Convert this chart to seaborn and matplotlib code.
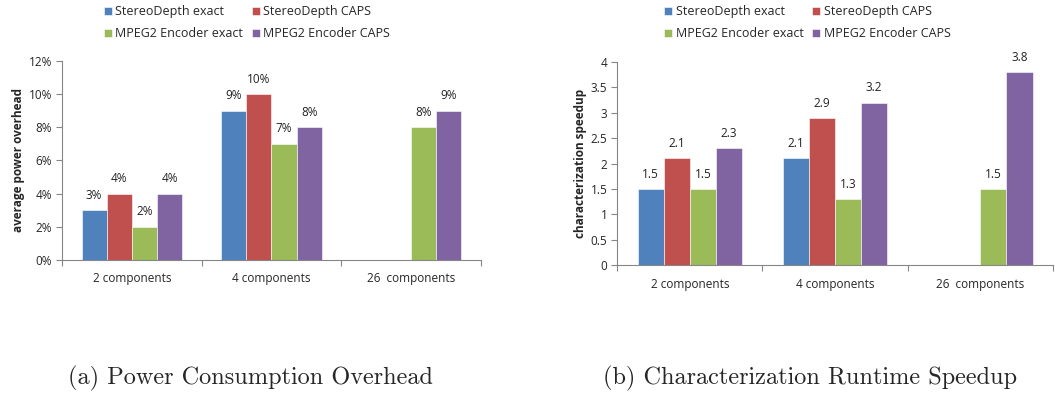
import numpy as np
import pandas as pd
import matplotlib
matplotlib.use("Agg")
import matplotlib.pyplot as plt
from matplotlib.ticker import FixedLocator, PercentFormatter
import seaborn as sns

# ---- data ----
categories = ["2 components", "4 components", "26  components"]
series = ["StereoDepth exact", "StereoDepth CAPS", "MPEG2 Encoder exact", "MPEG2 Encoder CAPS"]
power_overhead = {
    "StereoDepth exact":   [3, 9, np.nan],
    "StereoDepth CAPS":    [4, 10, np.nan],
    "MPEG2 Encoder exact": [2, 7, 8],
    "MPEG2 Encoder CAPS":  [4, 8, 9],
}
speedup = {
    "StereoDepth exact":   [1.5, 2.1, np.nan],
    "StereoDepth CAPS":    [2.1, 2.9, np.nan],
    "MPEG2 Encoder exact": [1.5, 1.3, 1.5],
    "MPEG2 Encoder CAPS":  [2.3, 3.2, 3.8],
}
power_ticks = [0, 2, 4, 6, 8, 10, 12]
speed_ticks = [0, 0.5, 1, 1.5, 2, 2.5, 3, 3.5, 4]
palette = ["#4F81BD", "#C0504D", "#9BBB59", "#8064A2"]


def long_form(values):
    rows = []
    for s in series:
        for c, v in zip(categories, values[s]):
            rows.append({"category": c, "series": s, "value": v})
    return pd.DataFrame(rows)


sns.set_theme(style="white")
plt.rcParams["font.family"] = ["Open Sans", "DejaVu Sans"]

fig = plt.figure(figsize=(10.55, 3.95), dpi=100)
ax1 = fig.add_axes([0.0588, 0.342, 0.397, 0.504])
ax2 = fig.add_axes([0.585, 0.329, 0.413, 0.514])

spine_color = "#868686"


def draw(ax, values, ticks, fmt, ylabel, ymax, legend_x):
    df = long_form(values)
    sns.barplot(data=df, x="category", y="value", hue="series", order=categories,
                hue_order=series, palette=palette, width=0.72, saturation=1,
                edgecolor="white", linewidth=0.4, legend=True, ax=ax)
    # value labels over each drawn bar
    for cont, s in zip(ax.containers, series):
        for patch, v in zip(cont.patches, values[s]):
            if np.isnan(v):
                continue
            x = patch.get_x() + patch.get_width() / 2
            ax.annotate(fmt(v), (x, v), xytext=(0, 6), textcoords="offset points",
                        ha="center", va="bottom", fontsize=8.5, color="#222222")
    ax.set_ylim(0, ymax)
    ax.set_xlim(-0.5, len(categories) - 0.5)
    ax.yaxis.set_major_locator(FixedLocator(ticks))
    ax.set_xlabel("")
    ax.set_ylabel(ylabel, fontsize=8.5, fontweight="bold", labelpad=3)
    for side in ["top", "right"]:
        ax.spines[side].set_visible(False)
    for side in ["left", "bottom"]:
        ax.spines[side].set_color(spine_color)
        ax.spines[side].set_linewidth(0.8)
    ax.tick_params(axis="y", which="major", left=True, length=4, width=0.8,
                   color=spine_color, labelsize=8.5, pad=3)
    ax.tick_params(axis="x", which="major", bottom=False, labelsize=8.5, pad=3)
    ax.xaxis.set_minor_locator(FixedLocator(np.arange(-0.5, len(categories), 1.0)))
    ax.tick_params(axis="x", which="minor", bottom=True, length=4, width=0.8,
                   color=spine_color)
    # legend rows: StereoDepth pair on top, MPEG2 pair below
    handles, labels = ax.get_legend_handles_labels()
    order = [0, 2, 1, 3]
    ax.legend([handles[i] for i in order], [labels[i] for i in order],
              loc="upper left", bbox_to_anchor=(legend_x, 1.0),
              bbox_transform=fig.transFigure, ncol=2, frameon=False,
              fontsize=9, handlelength=0.6, handleheight=0.6, handletextpad=0.3,
              columnspacing=0.7, labelspacing=0.75, borderaxespad=0.0)


draw(ax1, power_overhead, power_ticks, lambda v: f"{v:.0f}%",
     "average power overhead", 12, 0.094)
ax1.yaxis.set_major_formatter(PercentFormatter(decimals=0))

draw(ax2, speedup, speed_ticks, lambda v: f"{v:.1f}",
     "characterization speedup", 4, 0.625)
ax2.yaxis.set_major_formatter(lambda v, p: f"{v:g}")

fig.text(0.237, 0.043, "(a) Power Consumption Overhead", family="cmr10",
         fontsize=17.5, ha="center", va="center")
fig.text(0.768, 0.043, "(b) Characterization Runtime Speedup", family="cmr10",
         fontsize=17.5, ha="center", va="center")

fig.savefig("out.png", dpi=100)
